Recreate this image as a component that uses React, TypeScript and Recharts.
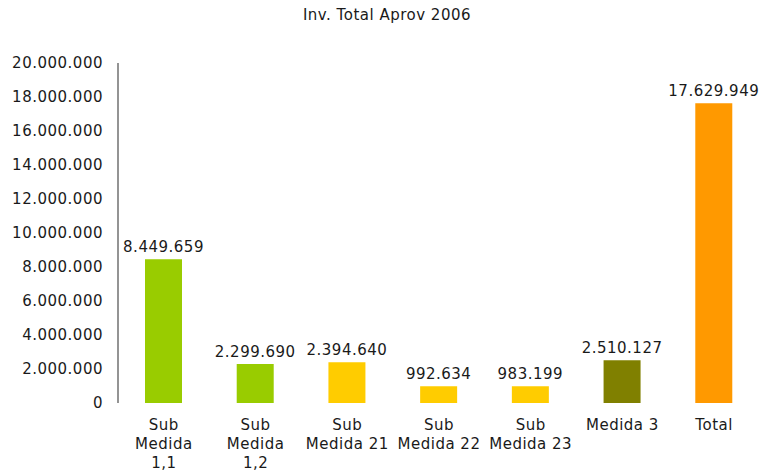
import { BarChart, Bar, XAxis, YAxis, Cell, LabelList } from "recharts";

const categories = [
  "Sub Medida 1,1",
  "Sub Medida 1,2",
  "Sub Medida 21",
  "Sub Medida 22",
  "Sub Medida 23",
  "Medida 3",
  "Total",
];

const values = [8449659, 2299690, 2394640, 992634, 983199, 2510127, 17629949];

const tickLines = [
  ["Sub", "Medida", "1,1"],
  ["Sub", "Medida", "1,2"],
  ["Sub", "Medida 21"],
  ["Sub", "Medida 22"],
  ["Sub", "Medida 23"],
  ["Medida 3"],
  ["Total"],
];

const yTicks = [0, 2000000, 4000000, 6000000, 8000000, 10000000, 12000000, 14000000, 16000000, 18000000, 20000000];

const barColors = ["#99CC00", "#99CC00", "#FFCC00", "#FFCC00", "#FFCC00", "#808000", "#FF9900"];

const data = categories.map((name, i) => ({ name, value: values[i], idx: i }));

const FONT = "'DejaVu Sans', Verdana, sans-serif";

const fmt = (v: number) => v.toLocaleString("de-DE");

function CategoryTick(props: any) {
  const { x, y, index } = props;
  const lines = tickLines[index] || [];
  return (
    <g>
      {lines.map((line, i) => (
        <text
          key={i}
          x={x}
          y={y - 1 + i * 19}
          textAnchor="middle"
          dominantBaseline="central"
          fontFamily={FONT}
          fontSize={15}
          letterSpacing={0.5}
          fill="#1a1a1a"
        >
          {line}
        </text>
      ))}
    </g>
  );
}

export default function App() {
  return (
    <div style={{ position: "absolute", left: 0, top: 0, width: 762, height: 472, background: "#fff" }}>
      <svg style={{ position: "absolute", left: 0, top: 0 }} width={762} height={30}>
        <text
          x={387}
          y={15}
          textAnchor="middle"
          dominantBaseline="central"
          fontFamily={FONT}
          fontSize={15}
          letterSpacing={0.5}
          fill="#1a1a1a"
        >
          Inv. Total Aprov 2006
        </text>
      </svg>
      <BarChart
        width={762}
        height={472}
        data={data}
        margin={{ top: 63, right: 2, left: 0, bottom: 9 }}
        style={{ position: "absolute", left: 0, top: 0 }}
      >
        <XAxis
          dataKey="name"
          axisLine={false}
          tickLine={false}
          interval={0}
          height={60}
          tickSize={0}
          tickMargin={23}
          tick={<CategoryTick />}
        />
        <YAxis
          domain={[0, 20000000]}
          ticks={yTicks}
          width={118}
          tickLine={false}
          tickSize={6}
          tickMargin={9}
          axisLine={{ stroke: "#707070", strokeWidth: 1.5 }}
          tickFormatter={fmt}
          tick={{ fontFamily: FONT, fontSize: 15, fill: "#1a1a1a", letterSpacing: 0.5 }}
        />
        <Bar dataKey="value" barSize={37} isAnimationActive={false}>
          {data.map((d) => (
            <Cell key={d.name} fill={barColors[d.idx]} />
          ))}
          <LabelList
            dataKey="value"
            position="top"
            offset={7}
            formatter={(v: any) => fmt(Number(v))}
            style={{ fontFamily: FONT, fontSize: 15, fill: "#1a1a1a", letterSpacing: 0.5 }}
          />
        </Bar>
      </BarChart>
    </div>
  );
}
